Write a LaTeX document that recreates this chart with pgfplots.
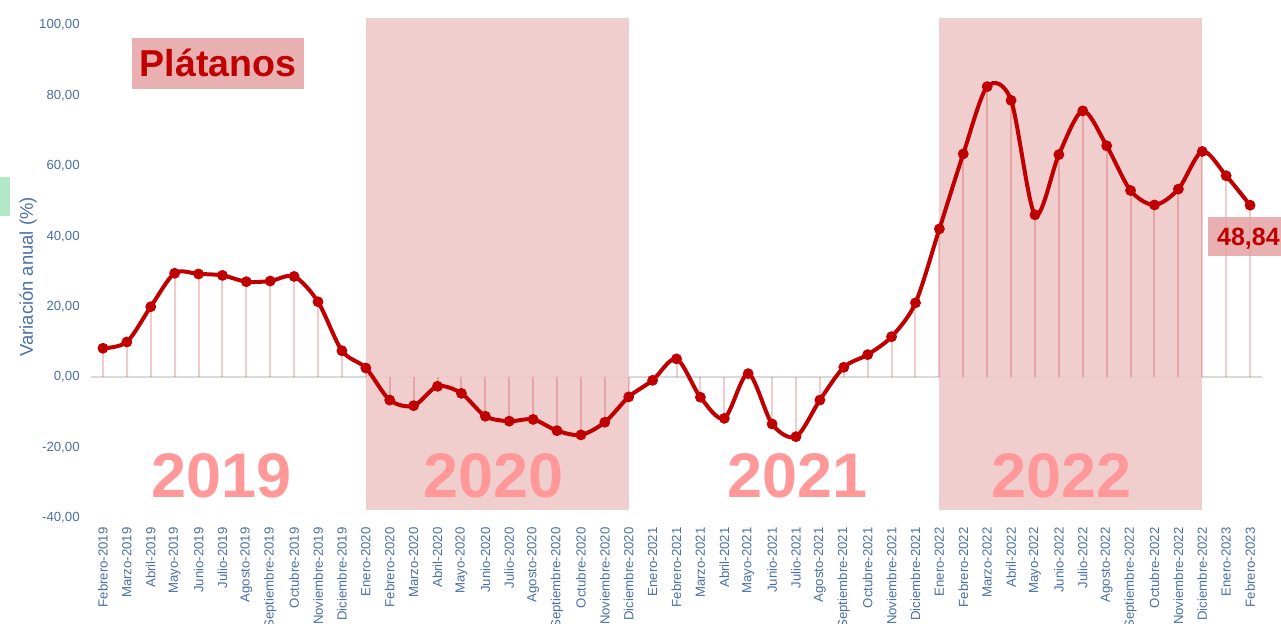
\documentclass[border=0pt]{standalone}
\usepackage{fontspec}
\setmainfont{Liberation Sans}
\usepackage{pgfplots}
\usepackage{pgfplotstable}
\pgfplotsset{compat=1.18}

\definecolor{linered}{HTML}{C00000}
\definecolor{yearshade}{HTML}{F0CACA}
\definecolor{tickblue}{HTML}{4A6FA5}
\definecolor{yearpink}{HTML}{FF9999}
\definecolor{labelbox}{HTML}{E8B0B0}
\definecolor{tagbox}{HTML}{E4A2A2}
\definecolor{zerogray}{HTML}{D9D9D9}
\definecolor{greenbox}{HTML}{B0E8C8}

% variacion anual (%), Febrero-2019 = 0 ... Febrero-2023 = 48
\pgfplotstableread{
x y
0 8.2
1 10.0
2 20.0
3 29.5
4 29.3
5 28.9
6 27.1
7 27.3
8 28.6
9 21.4
10 7.5
11 2.6
12 -6.5
13 -8.1
14 -2.6
15 -4.6
16 -11.1
17 -12.5
18 -12.0
19 -15.2
20 -16.4
21 -12.8
22 -5.6
23 -0.9
24 5.2
25 -5.7
26 -11.7
27 1.0
28 -13.3
29 -16.9
30 -6.5
31 2.8
32 6.4
33 11.5
34 21.1
35 42.1
36 63.4
37 82.5
38 78.6
39 46.1
40 63.2
41 75.6
42 65.7
43 53.0
44 48.9
45 53.4
46 64.1
47 57.2
48 48.84
}\datatable

\begin{document}
\begin{tikzpicture}
\begin{axis}[
    scale only axis,
    width=585.5pt,
    height=246.5pt,
    xmin=-0.5, xmax=48.5,
    ymin=-40, ymax=100,
    clip=false,
    axis line style={draw=none},
    major tick length=0pt,
    ytick={-40,-20,...,100},
    xtick={0,...,48},
    xticklabels={Febrero-2019,Marzo-2019,Abril-2019,Mayo-2019,Junio-2019,Julio-2019,Agosto-2019,Septiembre-2019,Octubre-2019,Noviembre-2019,Diciembre-2019,
      Enero-2020,Febrero-2020,Marzo-2020,Abril-2020,Mayo-2020,Junio-2020,Julio-2020,Agosto-2020,Septiembre-2020,Octubre-2020,Noviembre-2020,Diciembre-2020,
      Enero-2021,Febrero-2021,Marzo-2021,Abril-2021,Mayo-2021,Junio-2021,Julio-2021,Agosto-2021,Septiembre-2021,Octubre-2021,Noviembre-2021,Diciembre-2021,
      Enero-2022,Febrero-2022,Marzo-2022,Abril-2022,Mayo-2022,Junio-2022,Julio-2022,Agosto-2022,Septiembre-2022,Octubre-2022,Noviembre-2022,Diciembre-2022,
      Enero-2023,Febrero-2023},
    x tick label style={rotate=90, anchor=east, inner sep=0pt, font=\fontsize{6.6}{7}\selectfont, text=tickblue},
    xticklabel shift=4.5pt,
    y tick label style={anchor=east, inner sep=0pt, font=\fontsize{6.6}{7}\selectfont, text=tickblue},
    yticklabel shift=5.5pt,
    yticklabel style={/pgf/number format/.cd, fixed, fixed zerofill, precision=2, use comma, 1000 sep={}, assume math mode=true},
    ylabel={Variación anual (\%)},
    ylabel style={at={(axis description cs:-0.0538,0.489)}, anchor=center, font=\fontsize{9.2}{10}\selectfont, text=tickblue},
]
% zero line and year shading
\draw[zerogray, line width=1pt] (axis cs:-0.5,0) -- (axis cs:48.5,0);
\fill[yearshade, opacity=0.92] (axis cs:11,-37.8) rectangle (axis cs:22,102);
\fill[yearshade, opacity=0.92] (axis cs:35,-37.8) rectangle (axis cs:46,102);
\fill[greenbox] (axis cs:-5,45.7) rectangle (axis cs:-3.89,56.8);

% drop lines
\addplot[ycomb, draw=linered, draw opacity=0.2, line width=1pt, no marks] table {\datatable};
% series
\addplot[linered, line width=2pt, smooth, mark=*, mark size=2.5pt,
    mark options={solid, fill=linered, draw=linered, line width=0.4pt}] table {\datatable};

% year labels
\node[font=\fontsize{31.5}{32}\selectfont\bfseries, text=yearpink] at (axis cs:4.96,-28.1) {2019};
\node[font=\fontsize{31.5}{32}\selectfont\bfseries, text=yearpink] at (axis cs:16.34,-28.1) {2020};
\node[font=\fontsize{31.5}{32}\selectfont\bfseries, text=yearpink] at (axis cs:29.05,-28.1) {2021};
\node[font=\fontsize{31.5}{32}\selectfont\bfseries, text=yearpink] at (axis cs:40.1,-28.1) {2022};

\node[fill=labelbox, text=linered, font=\fontsize{18.75}{20}\selectfont\bfseries,
    minimum width=86pt, minimum height=25.5pt, text height=13.4pt, text depth=0pt]
    at (axis cs:4.81,89.1) {Plátanos};
\node[anchor=west, fill=tagbox, fill opacity=0.85, text opacity=1, text=linered,
    font=\fontsize{12.5}{13}\selectfont\bfseries, inner xsep=4.5pt,
    minimum height=19.5pt, text height=8.95pt, text depth=0pt]
    at (axis cs:46.23,39.9) {48,84};
\end{axis}
\pgfresetboundingbox
\path ([shift={(-45.5pt,-52.5pt)}]current axis.south west) rectangle ([shift={(9.5pt,12.5pt)}]current axis.north east);
\end{tikzpicture}
\end{document}
